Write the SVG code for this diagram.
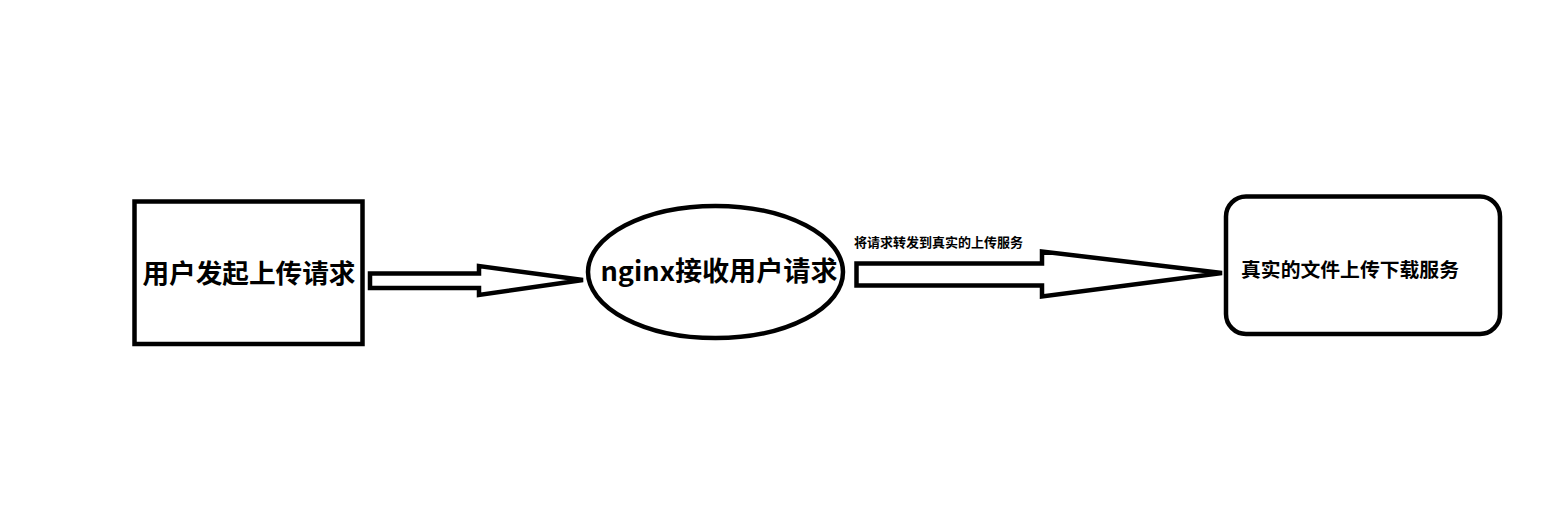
<svg xmlns="http://www.w3.org/2000/svg" width="1553" height="524" viewBox="0 0 1553 524">
<style>
.shape{fill:#fff;stroke:#000;stroke-width:4.5;}
.arrow{fill:#fff;stroke:#000;stroke-width:4.5;stroke-linejoin:miter;}
.t{font-family:"Noto Sans CJK SC","Noto Sans",sans-serif;font-weight:bold;fill:#000;}
</style>
<rect width="1553" height="524" fill="#fff"/>
<g id="node-user">
<rect class="shape" x="134.5" y="201.5" width="228" height="142.5"/>
<text class="t" x="142.5" y="283" font-size="26" textLength="213" lengthAdjust="spacingAndGlyphs">用户发起上传请求</text>
</g>
<g id="node-nginx">
<ellipse class="shape" cx="715.5" cy="272" rx="127.5" ry="66"/>
<text class="t" x="600.5" y="281" font-size="27" textLength="237" lengthAdjust="spacingAndGlyphs">nginx接收用户请求</text>
</g>
<g id="node-service">
<rect class="shape" x="1226" y="196.5" width="274" height="137.5" rx="20" ry="20"/>
<text class="t" x="1241" y="277" font-size="19.5" textLength="218" lengthAdjust="spacingAndGlyphs">真实的文件上传下载服务</text>
</g>
<g id="connectors">
<polygon class="arrow" points="370,273.5 479,273.5 479,266 583,280 479,295 479,288 370,288"/>
<polygon class="arrow" points="856.5,263.5 1042,263.5 1042,251.5 1222,273 1042,296.5 1042,285.5 856.5,285.5"/>
<text class="t" x="854" y="247" font-size="13" textLength="169" lengthAdjust="spacingAndGlyphs">将请求转发到真实的上传服务</text>
</g>
</svg>
